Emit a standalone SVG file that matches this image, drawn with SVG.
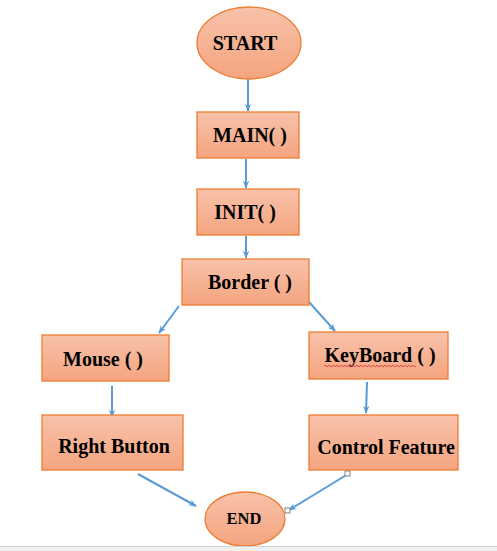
<svg xmlns="http://www.w3.org/2000/svg" width="497" height="551" viewBox="0 0 497 551">
<defs>
<linearGradient id="g" x1="0" y1="0" x2="0" y2="1">
<stop offset="0" stop-color="#f8c2aa"/>
<stop offset="1" stop-color="#f4a47f"/>
</linearGradient>
<marker id="a" viewBox="0 0 10 10" refX="9" refY="5" markerWidth="8" markerHeight="8" orient="auto" markerUnits="userSpaceOnUse">
<path d="M0,1 L10,5 L0,9 L3,5 z" fill="#5b9bd5"/>
</marker>
</defs>
<style>
.n{fill:url(#g);stroke:#ed7d31;stroke-width:1.3}
.t{font-family:"Liberation Serif","Times New Roman",serif;font-weight:bold;font-size:20px;fill:#000;text-anchor:middle}
.c{stroke:#5b9bd5;stroke-width:2;fill:none;marker-end:url(#a)}
.h{fill:#fff;stroke:#808080;stroke-width:1}
</style>
<rect x="0" y="0" width="497" height="551" fill="#fff"/>
<g id="connectors">
<line class="c" x1="248" y1="79" x2="248" y2="111"/>
<line class="c" x1="246" y1="159" x2="246" y2="188"/>
<line class="c" x1="246" y1="236" x2="246" y2="258"/>
<line class="c" x1="179" y1="306" x2="159" y2="333"/>
<line class="c" x1="309" y1="302" x2="335" y2="331"/>
<line class="c" x1="112" y1="386" x2="112" y2="417"/>
<line class="c" x1="367" y1="382" x2="366" y2="413"/>
<line class="c" x1="138" y1="474" x2="196" y2="506"/>
<line class="c" x1="348" y1="474" x2="289" y2="510"/>
<rect class="h" x="345" y="471" width="5" height="5"/>
<rect class="h" x="285" y="508" width="5" height="5"/>
</g>
<g id="start">
<ellipse class="n" cx="249" cy="43" rx="52" ry="36"/>
<text class="t" x="245" y="50">START</text>
</g>
<g id="main">
<rect class="n" x="197" y="112" width="102" height="46"/>
<text class="t" x="250" y="142">MAIN( )</text>
</g>
<g id="init">
<rect class="n" x="197" y="189" width="102" height="46"/>
<text class="t" x="245" y="219">INIT( )</text>
</g>
<g id="border">
<rect class="n" x="182" y="259" width="127" height="46"/>
<text class="t" x="250" y="289">Border ( )</text>
</g>
<g id="mouse">
<rect class="n" x="42" y="335" width="127" height="46"/>
<text class="t" x="103" y="366">Mouse ( )</text>
</g>
<g id="keyboard">
<rect class="n" x="309" y="332" width="139" height="47"/>
<text class="t" x="380" y="362">KeyBoard ( )</text>
<path d="M324,366 q1,-1.5 2,0 t2,0 t2,0 t2,0 t2,0 t2,0 t2,0 t2,0 t2,0 t2,0 t2,0 t2,0 t2,0 t2,0 t2,0 t2,0 t2,0 t2,0 t2,0 t2,0 t2,0 t2,0 t2,0 t2,0 t2,0 t2,0 t2,0 t2,0 t2,0 t2,0 t2,0 t2,0 t2,0 t2,0 t2,0 t2,0 t2,0 t2,0 t2,0 t2,0 t2,0 t2,0 t2,0 t2,0 t2,0 t2,0" fill="none" stroke="#e03030" stroke-width="0.8"/>
</g>
<g id="right-button">
<rect class="n" x="42" y="415" width="141" height="55"/>
<text class="t" x="114" y="453">Right Button</text>
</g>
<g id="control-feature">
<rect class="n" x="309" y="415" width="149" height="55"/>
<text class="t" x="386" y="454">Control Feature</text>
</g>
<g id="end">
<ellipse class="n" cx="245" cy="519" rx="40" ry="27"/>
<text class="t" x="244" y="524" style="font-size:16.5px">END</text>
</g>
<rect x="0" y="546" width="497" height="5" fill="#f0f0f0"/>
<line x1="0" y1="546.5" x2="497" y2="546.5" stroke="#d4d4d4" stroke-width="1"/>
</svg>
